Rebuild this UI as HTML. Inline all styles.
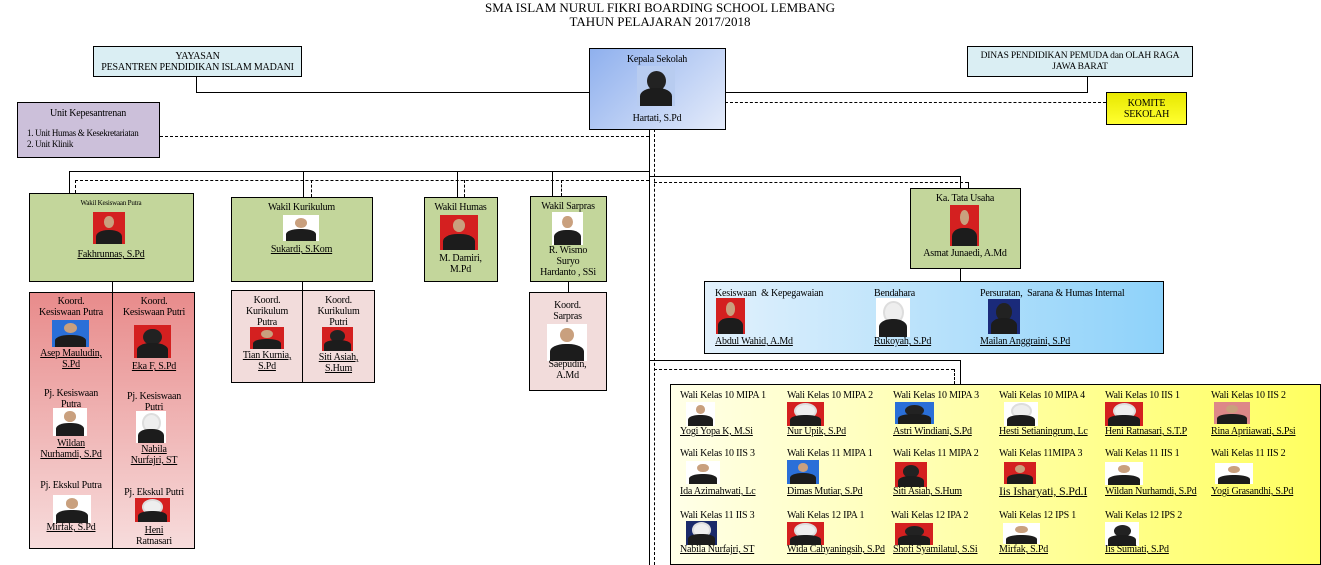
<!DOCTYPE html>
<html><head><meta charset="utf-8"><style>
*{margin:0;padding:0;box-sizing:border-box}
body{width:1321px;height:565px;position:relative;overflow:hidden;background:#fff;font-family:"Liberation Serif",serif;font-size:10px;color:#000;line-height:11px;letter-spacing:-0.2px}
div{position:absolute}
.h{height:0;border-top:1.5px solid #000}
.v{width:0;border-left:1.5px solid #000}
.hd{height:0;border-top:1px dashed #000}
.vd{width:0;border-left:1px dashed #000}
.b{border:1.5px solid #000}
.t{white-space:nowrap;text-align:center}
.l{white-space:nowrap}
u{text-decoration:underline}
.ph{overflow:hidden;background:#fff}
.ph::before{content:"";position:absolute;left:33%;width:34%;top:12%;height:38%;border-radius:50%;background:#c9a07e}
.ph::after{content:"";position:absolute;left:8%;right:8%;top:55%;bottom:0;border-radius:45% 45% 0 0;background:#1c1c1c}
.f::before{background:#eee;left:25%;width:50%;height:50%;box-shadow:0 0 0 2px #ddd}
.fd::before{background:#222;left:25%;width:50%;height:50%}
.r{background:#d42020}.bl{background:#2a6fd8}.g{background:#d88}
</style></head><body>
<div class="t" style="left:430px;top:1px;width:460px;font-size:13px;line-height:14px;letter-spacing:0">SMA ISLAM NURUL FIKRI BOARDING SCHOOL LEMBANG<br>TAHUN PELAJARAN 2017/2018</div>

<!-- lines -->
<div class="v" style="left:196px;top:76px;height:17px"></div>
<div class="h" style="left:196px;top:92px;width:393px"></div>
<div class="v" style="left:1087px;top:76px;height:17px"></div>
<div class="h" style="left:725px;top:92px;width:363px"></div>
<div class="hd" style="left:725px;top:102px;width:381px"></div>
<div class="hd" style="left:160px;top:136px;width:489px"></div>
<div class="v" style="left:649px;top:129px;height:436px"></div>
<div class="vd" style="left:654px;top:129px;height:436px"></div>
<div class="h" style="left:69px;top:171px;width:580px"></div>
<div class="h" style="left:649px;top:176px;width:312px"></div>
<div class="v" style="left:69px;top:171px;height:22px"></div>
<div class="v" style="left:303px;top:171px;height:26px"></div>
<div class="v" style="left:457px;top:171px;height:26px"></div>
<div class="v" style="left:552px;top:171px;height:25px"></div>
<div class="v" style="left:960px;top:176px;height:12px"></div>
<div class="hd" style="left:75px;top:180px;width:574px"></div>
<div class="hd" style="left:654px;top:182px;width:314px"></div>
<div class="vd" style="left:75px;top:180px;height:13px"></div>
<div class="vd" style="left:311px;top:180px;height:17px"></div>
<div class="vd" style="left:464px;top:180px;height:17px"></div>
<div class="vd" style="left:561px;top:180px;height:16px"></div>
<div class="vd" style="left:968px;top:182px;height:6px"></div>
<div class="v" style="left:112px;top:281px;height:11px"></div>
<div class="v" style="left:302px;top:281px;height:9px"></div>
<div class="v" style="left:568px;top:281px;height:11px"></div>
<div class="v" style="left:960px;top:268px;height:13px"></div>
<div class="h" style="left:649px;top:360px;width:312px"></div>
<div class="v" style="left:960px;top:360px;height:24px"></div>
<div class="hd" style="left:654px;top:369px;width:300px"></div>
<div class="vd" style="left:954px;top:369px;height:15px"></div>

<!-- top boxes -->
<div class="b t" style="left:93px;top:46px;width:209px;height:31px;background:#daeef3;padding-top:4px">YAYASAN<br>PESANTREN PENDIDIKAN ISLAM MADANI</div>
<div class="b t" style="left:967px;top:46px;width:226px;height:31px;background:#daeef3;padding-top:4px;font-size:9.5px">DINAS PENDIDIKAN PEMUDA dan OLAH RAGA<br>JAWA BARAT</div>
<div class="b" style="left:589px;top:48px;width:137px;height:82px;background:linear-gradient(135deg,#8fb0ee,#e4ebfa)">
 <div class="t" style="left:0;width:134px;top:5px">Kepala Sekolah</div>
 <div class="ph fd" style="left:47px;top:17px;width:38px;height:40px;background:#b8ccf0"></div>
 <div class="t" style="left:0;width:134px;top:64px">Hartati, S.Pd</div>
</div>
<div class="b t" style="left:1106px;top:92px;width:81px;height:33px;background:linear-gradient(#e8e800,#ffff30);padding-top:5px">KOMITE<br>SEKOLAH</div>
<div class="b" style="left:17px;top:102px;width:143px;height:56px;background:#ccc0da">
 <div class="t" style="left:0;width:140px;top:5px">Unit Kepesantrenan</div>
 <div class="l" style="left:9px;top:25px;font-size:9px;letter-spacing:-0.3px">1. Unit Humas &amp; Kesekretariatan<br>2. Unit Klinik</div>
</div>

<!-- wakil -->
<div class="b" style="left:29px;top:193px;width:165px;height:89px;background:#c3d69b">
 <div class="t" style="left:0;width:162px;top:4px;font-size:7px">Wakil Kesiswaan Putra</div>
 <div class="ph r" style="left:63px;top:18px;width:32px;height:32px"></div>
 <div class="t" style="left:0;width:162px;top:55px"><u>Fakhrunnas, S.Pd</u></div>
</div>
<div class="b" style="left:231px;top:197px;width:142px;height:85px;background:#c3d69b">
 <div class="t" style="left:0;width:139px;top:4px">Wakil Kurikulum</div>
 <div class="ph" style="left:51px;top:17px;width:36px;height:26px"></div>
 <div class="t" style="left:0;width:139px;top:46px"><u>Sukardi, S.Kom</u></div>
</div>
<div class="b" style="left:424px;top:197px;width:74px;height:85px;background:#c3d69b">
 <div class="t" style="left:0;width:71px;top:4px">Wakil Humas</div>
 <div class="ph r" style="left:15px;top:17px;width:38px;height:35px"></div>
 <div class="t" style="left:0;width:71px;top:55px">M. Damiri,<br>M.Pd</div>
</div>
<div class="b" style="left:530px;top:196px;width:77px;height:86px;background:#c3d69b">
 <div class="t" style="left:0;width:74px;top:4px">Wakil Sarpras</div>
 <div class="ph" style="left:21px;top:15px;width:31px;height:33px"></div>
 <div class="t" style="left:0;width:74px;top:48px">R. Wismo<br>Suryo<br>Hardanto , SSi</div>
</div>
<div class="b" style="left:910px;top:188px;width:111px;height:81px;background:#c3d69b">
 <div class="t" style="left:0;width:108px;top:4px">Ka. Tata Usaha</div>
 <div class="ph r" style="left:39px;top:16px;width:29px;height:41px"></div>
 <div class="t" style="left:0;width:108px;top:59px">Asmat Junaedi, A.Md</div>
</div>

<!-- blue TU box -->
<div class="b" style="left:704px;top:281px;width:460px;height:73px;background:linear-gradient(90deg,#e2f1fc,#8ed2fa)">
 <div class="l" style="left:10px;top:6px">Kesiswaan &nbsp;&amp; Kepegawaian</div>
 <div class="ph r" style="left:11px;top:16px;width:29px;height:36px"></div>
 <div class="l" style="left:10px;top:54px"><u>Abdul Wahid, A.Md</u></div>
 <div class="l" style="left:169px;top:6px">Bendahara</div>
 <div class="ph f" style="left:171px;top:16px;width:34px;height:39px"></div>
 <div class="l" style="left:169px;top:54px"><u>Rukoyah, S.Pd</u></div>
 <div class="l" style="left:275px;top:6px">Persuratan, &nbsp;Sarana &amp; Humas Internal</div>
 <div class="ph fd" style="left:283px;top:17px;width:32px;height:35px;background:#1a2a7a"></div>
 <div class="l" style="left:275px;top:54px"><u>Mailan Anggraini, S.Pd</u></div>
</div>

<!-- kesiswaan sub -->
<div class="b" style="left:29px;top:292px;width:166px;height:257px;background:linear-gradient(#e88b8b,#f7dcdc)">
 <div class="v" style="left:82px;top:0;height:255px"></div>
 <div class="t" style="left:0;width:82px;top:3px">Koord.<br>Kesiswaan Putra</div>
 <div class="ph bl" style="left:22px;top:27px;width:37px;height:27px"></div>
 <div class="t" style="left:0;width:82px;top:55px"><u>Asep Mauludin,<br>S.Pd</u></div>
 <div class="t" style="left:0;width:82px;top:95px">Pj. Kesiswaan<br>Putra</div>
 <div class="ph" style="left:23px;top:115px;width:34px;height:28px"></div>
 <div class="t" style="left:0;width:82px;top:145px"><u>Wildan<br>Nurhamdi, S.Pd</u></div>
 <div class="t" style="left:0;width:82px;top:187px">Pj. Ekskul Putra</div>
 <div class="ph" style="left:23px;top:202px;width:38px;height:28px"></div>
 <div class="t" style="left:0;width:82px;top:229px"><u>Mirfak, S.Pd</u></div>
 <div class="t" style="left:83px;width:82px;top:3px">Koord.<br>Kesiswaan Putri</div>
 <div class="ph r fd" style="left:104px;top:32px;width:37px;height:33px"></div>
 <div class="t" style="left:83px;width:82px;top:68px"><u>Eka F, S.Pd</u></div>
 <div class="t" style="left:83px;width:82px;top:98px">Pj. Kesiswaan<br>Putri</div>
 <div class="ph f" style="left:106px;top:118px;width:30px;height:32px"></div>
 <div class="t" style="left:83px;width:82px;top:151px"><u>Nabila<br>Nurfajri, ST</u></div>
 <div class="t" style="left:83px;width:82px;top:194px">Pj. Ekskul Putri</div>
 <div class="ph r f" style="left:105px;top:205px;width:35px;height:24px"></div>
 <div class="t" style="left:83px;width:82px;top:232px;height:22px;overflow:hidden"><u>Heni</u><br>Ratnasari</div>
</div>

<!-- kurikulum sub -->
<div class="b" style="left:231px;top:290px;width:144px;height:93px;background:#f2dcdb">
 <div class="v" style="left:70px;top:0;height:91px"></div>
 <div class="t" style="left:0;width:70px;top:4px">Koord.<br>Kurikulum<br>Putra</div>
 <div class="ph r" style="left:18px;top:36px;width:34px;height:22px"></div>
 <div class="t" style="left:0;width:70px;top:59px"><u>Tian Kurnia,<br>S.Pd</u></div>
 <div class="t" style="left:71px;width:71px;top:4px">Koord.<br>Kurikulum<br>Putri</div>
 <div class="ph r fd" style="left:90px;top:36px;width:31px;height:24px"></div>
 <div class="t" style="left:71px;width:71px;top:61px"><u>Siti Asiah,<br>S.Hum</u></div>
</div>

<!-- sarpras sub -->
<div class="b" style="left:529px;top:292px;width:78px;height:99px;background:#f2dcdb">
 <div class="t" style="left:0;width:75px;top:7px">Koord.<br>Sarpras</div>
 <div class="ph" style="left:17px;top:31px;width:40px;height:37px"></div>
 <div class="t" style="left:0;width:75px;top:66px">Saepudin,<br>A.Md</div>
</div>

<!-- wali kelas -->
<div class="b" style="left:670px;top:384px;width:651px;height:181px;background:linear-gradient(90deg,#ffffe8,#ffff60)"></div>
<div class="l" style="left:680px;top:390px">Wali Kelas 10 MIPA 1</div>
<div class="ph" style="left:686px;top:402px;width:29px;height:24px"></div>
<div class="l" style="left:680px;top:426px"><u>Yogi Yopa K, M.Si</u></div>
<div class="l" style="left:787px;top:390px">Wali Kelas 10 MIPA 2</div>
<div class="ph r f" style="left:787px;top:402px;width:37px;height:24px"></div>
<div class="l" style="left:787px;top:426px"><u>Nur Upik, S.Pd</u></div>
<div class="l" style="left:893px;top:390px">Wali Kelas 10 MIPA 3</div>
<div class="ph bl fd" style="left:895px;top:402px;width:39px;height:22px"></div>
<div class="l" style="left:893px;top:426px"><u>Astri Windiani, S.Pd</u></div>
<div class="l" style="left:999px;top:390px">Wali Kelas 10 MIPA 4</div>
<div class="ph f" style="left:1004px;top:402px;width:34px;height:24px"></div>
<div class="l" style="left:999px;top:426px"><u>Hesti Setianingrum, Lc</u></div>
<div class="l" style="left:1105px;top:390px">Wali Kelas 10 IIS 1</div>
<div class="ph r f" style="left:1105px;top:402px;width:38px;height:24px"></div>
<div class="l" style="left:1105px;top:426px"><u>Heni Ratnasari, S.T.P</u></div>
<div class="l" style="left:1211px;top:390px">Wali Kelas 10 IIS 2</div>
<div class="ph g" style="left:1214px;top:402px;width:36px;height:22px"></div>
<div class="l" style="left:1211px;top:426px"><u>Rina Apriiawati, S.Psi</u></div>

<div class="l" style="left:680px;top:448px">Wali Kelas 10 IIS 3</div>
<div class="ph" style="left:686px;top:461px;width:34px;height:23px"></div>
<div class="l" style="left:680px;top:486px"><u>Ida Azimahwati, Lc</u></div>
<div class="l" style="left:787px;top:448px">Wali Kelas 11 MIPA 1</div>
<div class="ph bl" style="left:787px;top:460px;width:32px;height:24px"></div>
<div class="l" style="left:787px;top:486px"><u>Dimas Mutiar, S.Pd</u></div>
<div class="l" style="left:893px;top:448px">Wali Kelas 11 MIPA 2</div>
<div class="ph r fd" style="left:895px;top:462px;width:32px;height:25px"></div>
<div class="l" style="left:893px;top:486px"><u>Siti Asiah, S.Hum</u></div>
<div class="l" style="left:999px;top:448px">Wali Kelas 11MIPA 3</div>
<div class="ph r" style="left:1004px;top:462px;width:32px;height:22px"></div>
<div class="l" style="left:999px;top:484px;font-size:12px;line-height:14px"><u>Iis Isharyati, S.Pd.I</u></div>
<div class="l" style="left:1105px;top:448px">Wali Kelas 11 IIS 1</div>
<div class="ph" style="left:1105px;top:462px;width:38px;height:23px"></div>
<div class="l" style="left:1105px;top:486px"><u>Wildan Nurhamdi, S.Pd</u></div>
<div class="l" style="left:1211px;top:448px">Wali Kelas 11 IIS 2</div>
<div class="ph" style="left:1215px;top:463px;width:38px;height:21px"></div>
<div class="l" style="left:1211px;top:486px"><u>Yogi Grasandhi, S.Pd</u></div>

<div class="l" style="left:680px;top:510px">Wali Kelas 11 IIS 3</div>
<div class="ph f" style="left:686px;top:521px;width:31px;height:24px;background:#1a2a6a"></div>
<div class="l" style="left:680px;top:544px"><u>Nabila Nurfajri, ST</u></div>
<div class="l" style="left:787px;top:510px">Wali Kelas 12 IPA 1</div>
<div class="ph r f" style="left:787px;top:522px;width:37px;height:23px"></div>
<div class="l" style="left:787px;top:544px"><u>Wida Cahyaningsih, S.Pd</u></div>
<div class="l" style="left:891px;top:510px">Wali Kelas 12 IPA 2</div>
<div class="ph r fd" style="left:895px;top:523px;width:38px;height:22px"></div>
<div class="l" style="left:893px;top:544px"><u>Shofi Syamilatul, S.Si</u></div>
<div class="l" style="left:999px;top:510px">Wali Kelas 12 IPS 1</div>
<div class="ph" style="left:1003px;top:523px;width:37px;height:21px"></div>
<div class="l" style="left:999px;top:544px"><u>Mirfak, S.Pd</u></div>
<div class="l" style="left:1105px;top:510px">Wali Kelas 12 IPS 2</div>
<div class="ph fd" style="left:1105px;top:522px;width:34px;height:24px"></div>
<div class="l" style="left:1105px;top:544px"><u>Iis Sumiati, S.Pd</u></div>
</body></html>
